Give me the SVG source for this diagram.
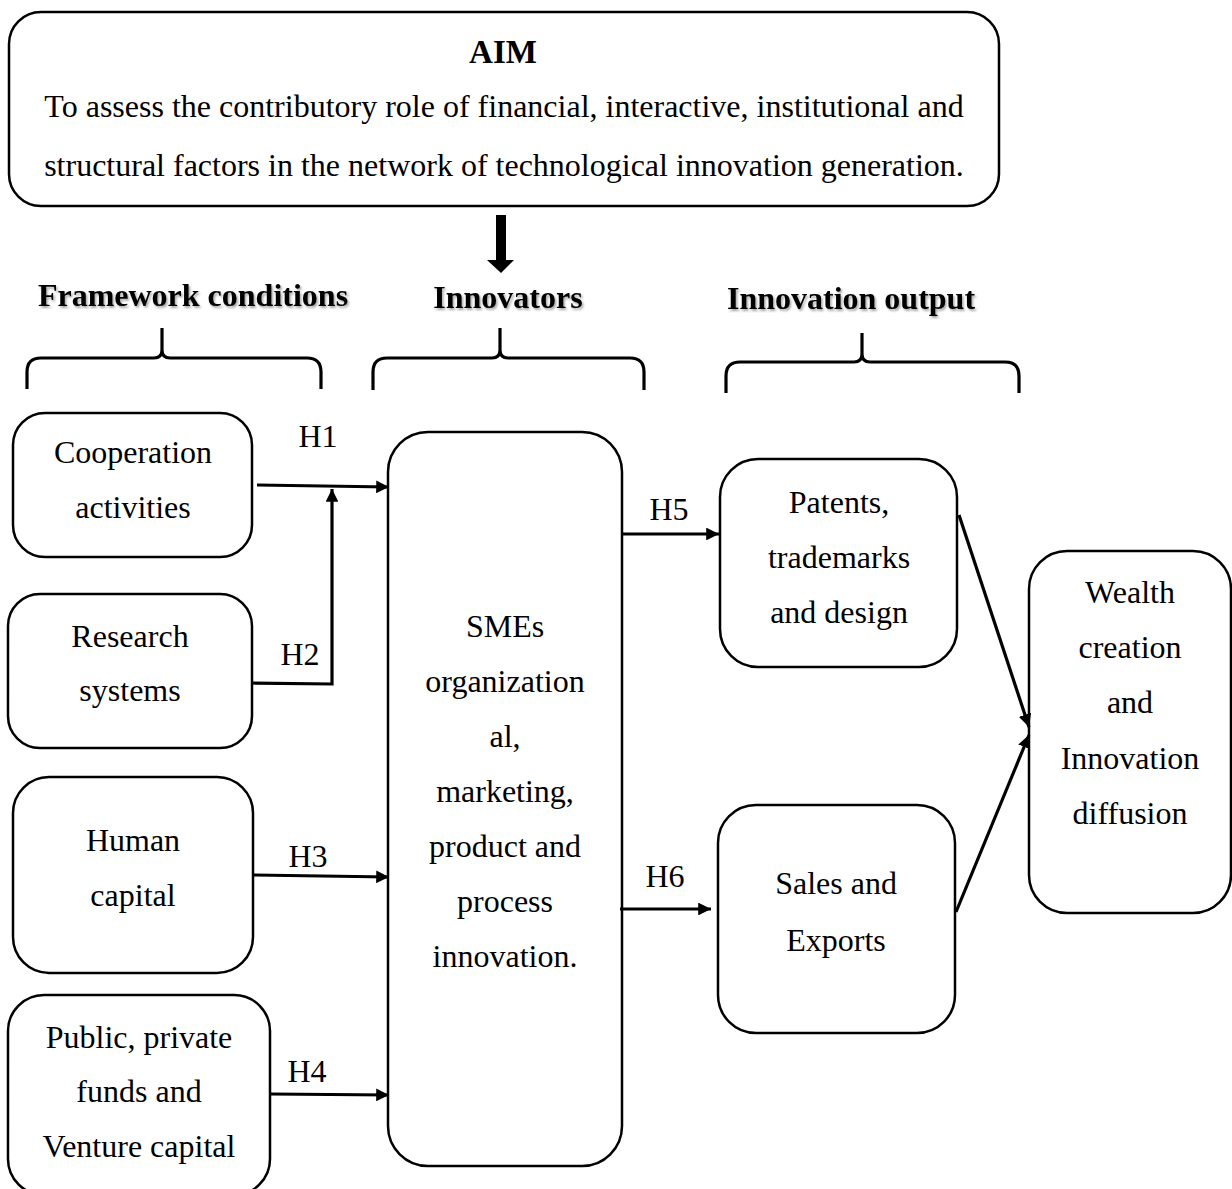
<svg xmlns="http://www.w3.org/2000/svg" width="1232" height="1189" viewBox="0 0 1232 1189">
<style>
.box{fill:#fff;stroke:#000;stroke-width:2.5}
.t{font-family:"Liberation Serif","Times New Roman",serif;font-size:32px;fill:#000;text-anchor:middle}
.aim{font-family:"Liberation Serif","Times New Roman",serif;font-size:32px;fill:#000;text-anchor:middle}
.b{font-weight:bold;font-size:33px}
.hd{font-family:"Liberation Serif","Times New Roman",serif;font-size:32px;font-weight:bold;fill:#000;text-anchor:middle;filter:url(#sh)}
.ln{fill:none;stroke:#000;stroke-width:3.2}
.br{fill:none;stroke:#000;stroke-width:3.2}
</style>
<defs>
<marker id="ah" viewBox="0 0 10 10" refX="10" refY="5" markerWidth="4" markerHeight="4" orient="auto" markerUnits="strokeWidth">
<path d="M0,0 L10,5 L0,10 z" fill="#000"/>
</marker>
<filter id="sh" x="-10%" y="-30%" width="120%" height="160%">
<feDropShadow dx="1.5" dy="2" stdDeviation="1" flood-color="#000" flood-opacity="0.35"/>
</filter>
</defs>
<rect width="1232" height="1189" fill="#fff"/>

<g id="aim">
<rect class="box" x="9" y="12" width="990" height="194" rx="32"/>
<text class="aim b" x="503" y="63">AIM</text>
<text class="aim" x="504" y="117">To assess the contributory role of financial, interactive, institutional and</text>
<text class="aim" x="504" y="176">structural factors in the network of technological innovation generation.</text>
</g>

<g id="aim-arrow">
<rect x="496" y="215" width="10" height="46" fill="#000"/>
<polygon points="487,260 514,260 501,273" fill="#000"/>
</g>

<g id="headings">
<text class="hd" x="193" y="306">Framework conditions</text>
<text class="hd" x="508" y="308">Innovators</text>
<text class="hd" x="851" y="309">Innovation output</text>
</g>

<g id="braces">
<path class="br" d="M27,389 L27,372 Q27,358 41,358 L154,358 Q162,358 162,350 L162,328 M162,350 Q162,358 170,358 L307,358 Q321,358 321,372 L321,389"/>
<path class="br" d="M373,390 L373,372 Q373,358 387,358 L492,358 Q500,358 500,350 L500,328 M500,350 Q500,358 508,358 L630,358 Q644,358 644,372 L644,390"/>
<path class="br" d="M726,393 L726,376 Q726,362 740,362 L854,362 Q862,362 862,354 L862,333 M862,354 Q862,362 870,362 L1005,362 Q1019,362 1019,376 L1019,393"/>
</g>

<g id="cooperation">
<rect class="box" x="13" y="413" width="239" height="144" rx="32"/>
<text class="t" x="133" y="463">Cooperation</text>
<text class="t" x="133" y="518">activities</text>
</g>

<g id="research">
<rect class="box" x="8" y="594" width="244" height="154" rx="32"/>
<text class="t" x="130" y="647">Research</text>
<text class="t" x="130" y="701">systems</text>
</g>

<g id="human">
<rect class="box" x="13" y="777" width="240" height="196" rx="36"/>
<text class="t" x="133" y="851">Human</text>
<text class="t" x="133" y="906">capital</text>
</g>

<g id="funds">
<rect class="box" x="8" y="995" width="262" height="200" rx="36"/>
<text class="t" x="139" y="1048">Public, private</text>
<text class="t" x="139" y="1102">funds and</text>
<text class="t" x="139" y="1157">Venture capital</text>
</g>

<g id="smes">
<rect class="box" x="388" y="432" width="234" height="734" rx="40"/>
<text class="t" x="505" y="637">SMEs</text>
<text class="t" x="505" y="692">organization</text>
<text class="t" x="505" y="747">al,</text>
<text class="t" x="505" y="802">marketing,</text>
<text class="t" x="505" y="857">product and</text>
<text class="t" x="505" y="912">process</text>
<text class="t" x="505" y="967">innovation.</text>
</g>

<g id="patents">
<rect class="box" x="720" y="459" width="237" height="208" rx="38"/>
<text class="t" x="839" y="513">Patents,</text>
<text class="t" x="839" y="568">trademarks</text>
<text class="t" x="839" y="623">and design</text>
</g>

<g id="sales">
<rect class="box" x="718" y="805" width="237" height="228" rx="38"/>
<text class="t" x="836" y="894">Sales and</text>
<text class="t" x="836" y="951">Exports</text>
</g>

<g id="wealth">
<rect class="box" x="1029" y="551" width="202" height="362" rx="38"/>
<text class="t" x="1130" y="603">Wealth</text>
<text class="t" x="1130" y="658">creation</text>
<text class="t" x="1130" y="713">and</text>
<text class="t" x="1130" y="769">Innovation</text>
<text class="t" x="1130" y="824">diffusion</text>
</g>

<g id="connectors">
<line class="ln" x1="257" y1="485" x2="389" y2="487" marker-end="url(#ah)"/>
<polyline class="ln" points="252,683 332,684 332,489" marker-end="url(#ah)"/>
<line class="ln" x1="254" y1="875" x2="389" y2="877" marker-end="url(#ah)"/>
<line class="ln" x1="270" y1="1094" x2="389" y2="1095" marker-end="url(#ah)"/>
<line class="ln" x1="622" y1="534" x2="719" y2="534" marker-end="url(#ah)"/>
<line class="ln" x1="620" y1="909" x2="711" y2="909" marker-end="url(#ah)"/>
<line class="ln" x1="959" y1="515" x2="1029" y2="727" marker-end="url(#ah)"/>
<line class="ln" x1="956" y1="912" x2="1029" y2="735" marker-end="url(#ah)"/>
<text class="t" x="318" y="447">H1</text>
<text class="t" x="300" y="665">H2</text>
<text class="t" x="308" y="867">H3</text>
<text class="t" x="307" y="1082">H4</text>
<text class="t" x="669" y="520">H5</text>
<text class="t" x="665" y="887">H6</text>
</g>
</svg>
